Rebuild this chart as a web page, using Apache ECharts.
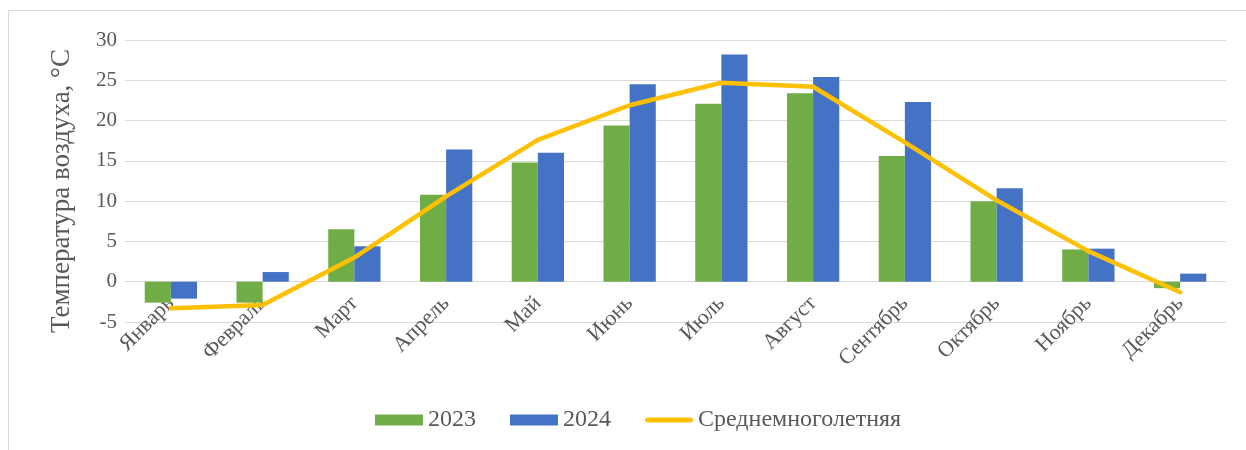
<!DOCTYPE html>
<html>
<head>
<meta charset="utf-8">
<script src="https://cdn.jsdelivr.net/npm/echarts@6/dist/echarts.min.js"></script>
<style>
html,body{margin:0;padding:0;background:#fff;}
#chart{width:1246px;height:450px;}
</style>
</head>
<body>
<div id="chart"></div>
<script>
const months = ['Январь','Февраль','Март','Апрель','Май','Июнь','Июль','Август','Сентябрь','Октябрь','Ноябрь','Декабрь'];
const t2023 = [-2.6, -2.6, 6.5, 10.8, 14.8, 19.4, 22.1, 23.4, 15.6, 10.0, 4.0, -0.8];
const t2024 = [-2.1, 1.2, 4.4, 16.4, 16.0, 24.5, 28.2, 25.4, 22.3, 11.6, 4.1, 1.0];
const tMean = [-3.3, -2.9, 3.0, 10.6, 17.6, 21.9, 24.7, 24.2, 17.3, 10.1, 3.8, -1.3];
const yTicks = {min: -5, max: 30, interval: 5};
const axisTitle = 'Температура воздуха, °С';

const FONT = '"Liberation Serif", "Times New Roman", serif';
const TXT = '#595959';
const chart = echarts.init(document.getElementById('chart'));
chart.setOption({
  animation: false,
  textStyle: {fontFamily: FONT},
  graphic: [
    {
      type: 'rect', shape: {x: 8.5, y: 10.5, width: 1260, height: 460},
      style: {fill: 'none', stroke: '#d9d9d9', lineWidth: 1}, silent: true
    },
    {
      type: 'text', x: 62, y: 191, rotation: Math.PI / 2,
      style: {text: axisTitle, fontFamily: FONT, fontSize: 27, fill: TXT,
              align: 'center', verticalAlign: 'middle'},
      silent: true
    }
  ],
  grid: {left: 125, right: 20, top: 40, bottom: 128},
  legend: {
    bottom: 13, left: 370,
    itemWidth: 48, itemHeight: 11, itemGap: 34,
    textStyle: {fontFamily: FONT, fontSize: 24, color: TXT},
    data: [
      {name: '2023', icon: 'rect'},
      {name: '2024', icon: 'rect'},
      {name: 'Среднемноголетняя',
       icon: 'path://M5,0 L95,0 A5,5 0 0 1 95,10 L5,10 A5,5 0 0 1 5,0 Z'}
    ]
  },
  xAxis: {
    type: 'category', data: months, offset: -28,
    axisLine: {show: false, onZero: false},
    axisTick: {show: false},
    axisLabel: {rotate: 45, fontFamily: FONT, fontSize: 22, color: TXT, margin: 6, interval: 0}
  },
  yAxis: {
    type: 'value', min: yTicks.min, max: yTicks.max, interval: yTicks.interval,
    axisLine: {show: false}, axisTick: {show: false},
    axisLabel: {fontFamily: FONT, fontSize: 21, color: TXT, margin: 8},
    splitLine: {lineStyle: {color: '#d9d9d9', width: 1}}
  },
  series: [
    {name: '2023', type: 'bar', data: t2023, barGap: '0%', barCategoryGap: '43%',
     itemStyle: {color: '#70AD47'}},
    {name: '2024', type: 'bar', data: t2024, barGap: '0%', barCategoryGap: '43%',
     itemStyle: {color: '#4472C4'}},
    {name: 'Среднемноголетняя', type: 'line', data: tMean, symbol: 'none',
     lineStyle: {color: '#FFC000', width: 4.5, cap: 'round', join: 'round'},
     itemStyle: {color: '#FFC000'}, z: 5}
  ]
});
</script>
</body>
</html>
